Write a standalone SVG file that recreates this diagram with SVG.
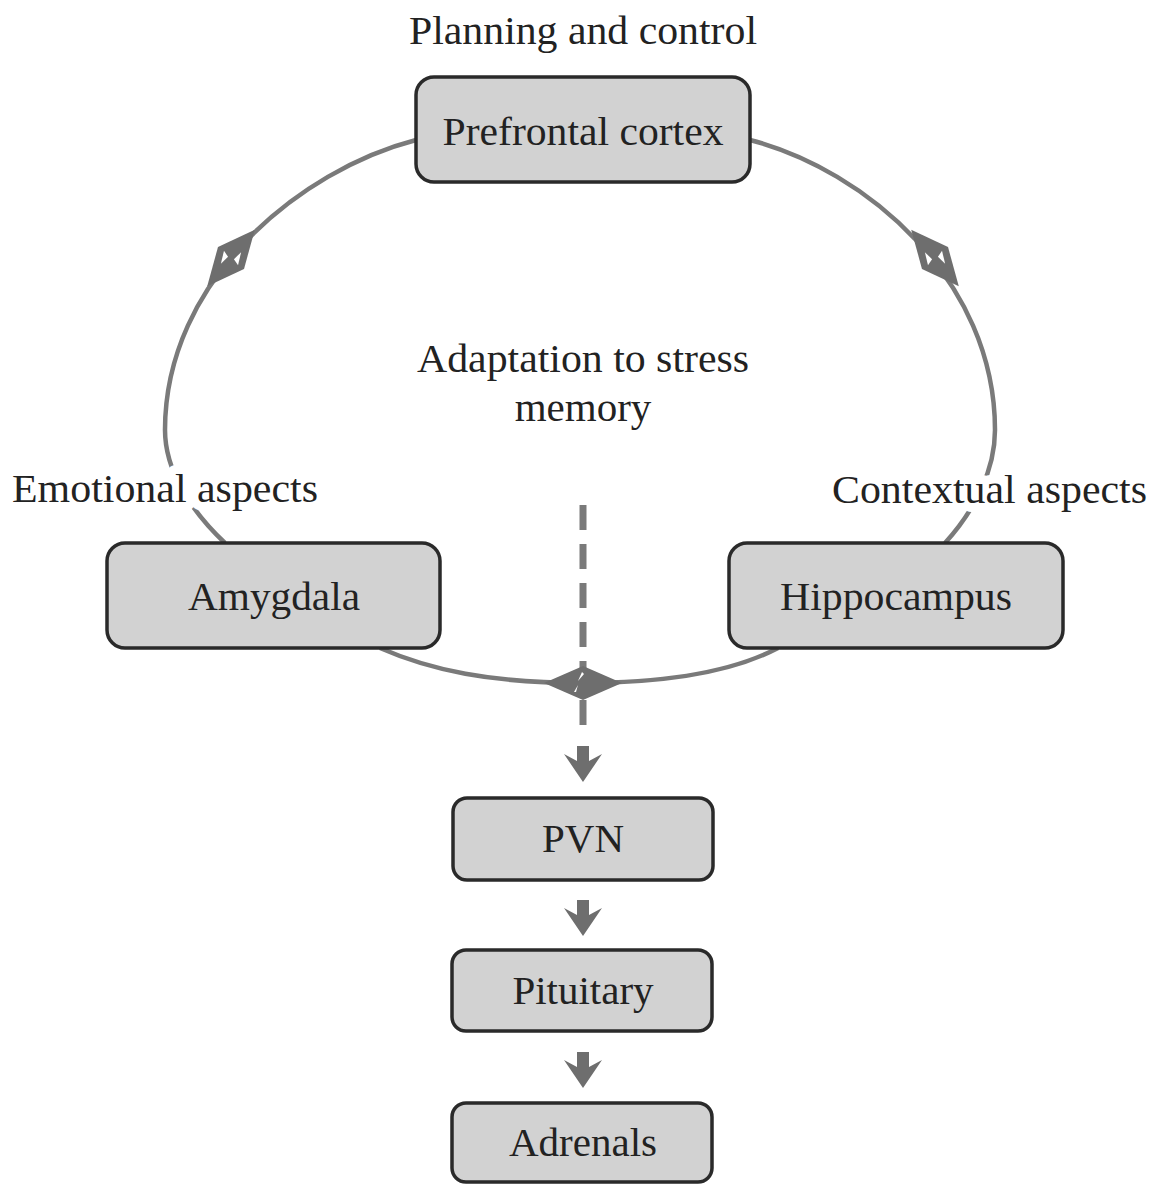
<svg xmlns="http://www.w3.org/2000/svg" width="1159" height="1184" viewBox="0 0 1159 1184">
<style>
.box{fill:#d2d2d2;stroke:#2a2a2a;stroke-width:3.5}
.t{font-family:"Liberation Serif","Times New Roman",serif;font-size:41px;fill:#222;text-anchor:middle}
.lbl{font-family:"Liberation Serif","Times New Roman",serif;font-size:41px;fill:#222}
.halo{stroke:#fff;stroke-width:18px;paint-order:stroke;stroke-linejoin:round}
.ln{fill:none;stroke:#7a7a7a;stroke-width:4.5}
.dash{fill:none;stroke:#7a7a7a;stroke-width:7;stroke-dasharray:25 14}
.dm{fill:#6e6e6e}
.wh{fill:#ffffff}
.hd{fill:#6e6e6e}
</style>
<g id="connectors">
<path class="ln" d="M416,140 C300,170 165,280 165,430 C165,470 190,510 225,543"/>
<path class="ln" d="M750,140 C866,170 995,280 995,430 C995,470 975,510 945,543"/>
<path class="ln" d="M380,648 C430,670 490,683 583,683 C676,683 736,670 778,648"/>
<line class="dash" x1="583" y1="505" x2="583" y2="733"/>
<g transform="translate(231,258) rotate(-50)">
<polygon class="dm" points="-37,0 0,-17 37,0 0,17"/>
<polygon class="wh" points="-11,-4 1,-10 -1,-3"/>
<polygon class="wh" points="11,4 -1,10 1,3"/>
</g>
<g transform="translate(935,258) rotate(50)">
<polygon class="dm" points="-37,0 0,-17 37,0 0,17"/>
<polygon class="wh" points="-11,4 1,10 -1,3"/>
<polygon class="wh" points="11,-4 -1,-10 1,-3"/>
</g>
<g transform="translate(583,683)">
<polygon class="dm" points="-39,0 0,-17 39,0 0,17"/>
<polygon class="wh" points="-5,-2 -1,-11 1,-9"/>
<polygon class="wh" points="-9,9 -5,2 -7,9"/>
</g>
<polygon class="hd" transform="translate(583,782)" points="0,0 -19,-28 -6,-21 -6,-36 6,-36 6,-21 19,-28"/>
<polygon class="hd" transform="translate(583,936)" points="0,0 -19,-28 -6,-21 -6,-36 6,-36 6,-21 19,-28"/>
<polygon class="hd" transform="translate(583,1088)" points="0,0 -19,-28 -6,-21 -6,-36 6,-36 6,-21 19,-28"/>
</g>
<g id="labels">
<text class="t" x="583" y="44" textLength="348" lengthAdjust="spacingAndGlyphs">Planning and control</text>
<text class="t" x="583" y="372" textLength="332" lengthAdjust="spacingAndGlyphs">Adaptation to stress</text>
<text class="t" x="583" y="421">memory</text>
<text class="lbl halo" x="12" y="502" textLength="306" lengthAdjust="spacingAndGlyphs">Emotional aspects</text>
<text class="lbl halo" x="832" y="503" textLength="315" lengthAdjust="spacingAndGlyphs">Contextual aspects</text>
</g>
<g id="prefrontal">
<rect class="box" x="416" y="77" width="334" height="105" rx="18"/>
<text class="t" x="583" y="145" textLength="281" lengthAdjust="spacingAndGlyphs">Prefrontal cortex</text>
</g>
<g id="amygdala">
<rect class="box" x="107" y="543" width="333" height="105" rx="18"/>
<text class="t" x="274" y="610" textLength="172" lengthAdjust="spacingAndGlyphs">Amygdala</text>
</g>
<g id="hippocampus">
<rect class="box" x="729" y="543" width="334" height="105" rx="18"/>
<text class="t" x="896" y="610" textLength="232" lengthAdjust="spacingAndGlyphs">Hippocampus</text>
</g>
<g id="pvn">
<rect class="box" x="453" y="798" width="260" height="82" rx="14"/>
<text class="t" x="583" y="852">PVN</text>
</g>
<g id="pituitary">
<rect class="box" x="452" y="950" width="260" height="81" rx="14"/>
<text class="t" x="583" y="1004">Pituitary</text>
</g>
<g id="adrenals">
<rect class="box" x="452" y="1103" width="260" height="79" rx="14"/>
<text class="t" x="583" y="1156">Adrenals</text>
</g>
</svg>
